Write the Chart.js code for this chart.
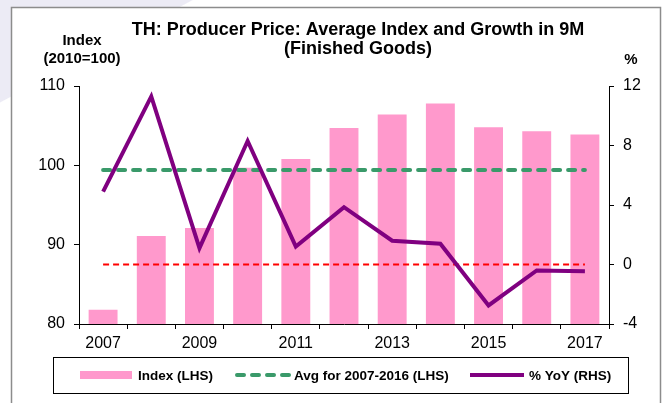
<!DOCTYPE html>
<html>
<head>
<meta charset="utf-8">
<script src="https://cdn.jsdelivr.net/npm/chart.js@4/dist/chart.umd.min.js"></script>
<style>
  html, body { margin: 0; padding: 0; }
  body {
    width: 668px; height: 403px; overflow: hidden;
    background: linear-gradient(152deg, #ecebf5 0px, #ecebf5 90px, #ffffff 91px);
  }
  #wrap { position: relative; width: 668px; height: 403px; }
</style>
</head>
<body>
<div id="wrap"><canvas id="ppiChart" width="668" height="403"></canvas></div>
<script>
const years = ['2007', '2008', '2009', '2010', '2011', '2012', '2013', '2014', '2015', '2016', '2017'];
const indexValues = [81.8, 91.1, 92.1, 99.7, 100.8, 104.7, 106.4, 107.8, 104.8, 104.3, 103.9];
const avgValue = 99.4;
const yoyValues = [4.9, 11.3, 1.1, 8.3, 1.2, 3.85, 1.6, 1.4, -2.75, -0.4, -0.45];
const zeroLine = [0, 0, 0, 0, 0, 0, 0, 0, 0, 0, 0];

const FONT = '"Liberation Sans", Arial, sans-serif';

const framePlugin = {
  id: 'frame',
  beforeDraw(chart) {
    const ctx = chart.ctx;
    ctx.save();
    ctx.fillStyle = '#ffffff';
    ctx.fillRect(11, 7, 650, 400);
    ctx.strokeStyle = '#8c8c8c';
    ctx.lineWidth = 1.5;
    ctx.strokeRect(11.5, 7.5, 649, 420);
    ctx.restore();
  },
  afterDraw(chart) {
    const ctx = chart.ctx;
    ctx.save();
    ctx.fillStyle = '#000';
    ctx.textAlign = 'center';
    ctx.textBaseline = 'middle';
    ctx.font = 'bold 18px ' + FONT;
    ctx.fillText('TH: Producer Price: Average Index and Growth in 9M', 358, 30);
    ctx.fillText('(Finished Goods)', 358, 49);
    ctx.font = 'bold 15px ' + FONT;
    ctx.fillText('Index', 82, 41);
    ctx.fillText('(2010=100)', 82, 59);
    ctx.fillText('%', 631, 60);

    // legend
    ctx.strokeStyle = '#000';
    ctx.lineWidth = 1;
    ctx.strokeRect(53.5, 357.5, 575, 36);
    const ly = 375;
    ctx.fillStyle = '#ff99cc';
    ctx.fillRect(80, ly - 4, 52, 8);
    ctx.lineWidth = 4;
    ctx.strokeStyle = '#3a9a6a';
    ctx.lineCap = 'round';
    ctx.setLineDash([7, 8]);
    ctx.beginPath(); ctx.moveTo(237, ly); ctx.lineTo(290, ly); ctx.stroke();
    ctx.setLineDash([]);
    ctx.lineCap = 'butt';
    ctx.strokeStyle = '#800080';
    ctx.beginPath(); ctx.moveTo(470, ly); ctx.lineTo(524, ly); ctx.stroke();
    ctx.fillStyle = '#000';
    ctx.textAlign = 'left';
    ctx.font = 'bold 13.5px ' + FONT;
    ctx.fillText('Index (LHS)', 138, ly + 1);
    ctx.fillText('Avg for 2007-2016 (LHS)', 294, ly + 1);
    ctx.fillText('% YoY (RHS)', 529, ly + 1);
    ctx.restore();
  }
};

const axisGrid = {
  drawOnChartArea: false,
  drawTicks: true,
  tickLength: 5,
  color: '#000',
  lineWidth: 1
};

new Chart(document.getElementById('ppiChart'), {
  type: 'bar',
  data: {
    labels: years,
    datasets: [
      {
        type: 'line',
        label: '% YoY (RHS)',
        data: yoyValues,
        yAxisID: 'y1',
        borderColor: '#800080',
        borderWidth: 4,
        borderJoinStyle: 'miter',
        pointRadius: 0,
        tension: 0,
        fill: false,
        order: 0
      },
      {
        type: 'line',
        label: 'Avg for 2007-2016 (LHS)',
        data: years.map(() => avgValue),
        yAxisID: 'y',
        borderColor: '#3a9a6a',
        borderWidth: 4,
        borderDash: [7, 8],
        borderCapStyle: 'round',
        pointRadius: 0,
        fill: false,
        order: 1
      },
      {
        type: 'line',
        label: 'zero',
        data: zeroLine,
        yAxisID: 'y1',
        borderColor: '#ff0000',
        borderWidth: 2,
        borderDash: [6, 4],
        pointRadius: 0,
        fill: false,
        order: 2
      },
      {
        label: 'Index (LHS)',
        data: indexValues,
        yAxisID: 'y',
        backgroundColor: '#ff99cc',
        barPercentage: 0.6,
        categoryPercentage: 1,
        order: 3
      }
    ]
  },
  options: {
    responsive: false,
    animation: false,
    devicePixelRatio: 1,
    layout: { padding: { top: 86, left: 0, right: 0, bottom: 0 } },
    plugins: {
      legend: { display: false },
      tooltip: { enabled: false }
    },
    scales: {
      x: {
        offset: true,
        grid: Object.assign({ offset: true }, axisGrid),
        border: { color: '#000', width: 1 },
        ticks: {
          color: '#000',
          font: { family: FONT, size: 16 },
          padding: 5,
          autoSkip: false,
          maxRotation: 0,
          callback: (v, i) => (i % 2 === 0 ? years[i] : '')
        },
        afterFit: s => { s.height = 79; }
      },
      y: {
        position: 'left',
        min: 80,
        max: 110,
        grid: axisGrid,
        border: { color: '#000', width: 1 },
        ticks: {
          stepSize: 10,
          color: '#000',
          font: { family: FONT, size: 16 },
          padding: 9
        },
        afterFit: s => { s.width = 79; }
      },
      y1: {
        position: 'right',
        min: -4,
        max: 12,
        grid: axisGrid,
        border: { color: '#000', width: 1 },
        ticks: {
          stepSize: 4,
          color: '#000',
          font: { family: FONT, size: 16 },
          padding: 9
        },
        afterFit: s => { s.width = 59; }
      }
    }
  },
  plugins: [framePlugin]
});
</script>
</body>
</html>
